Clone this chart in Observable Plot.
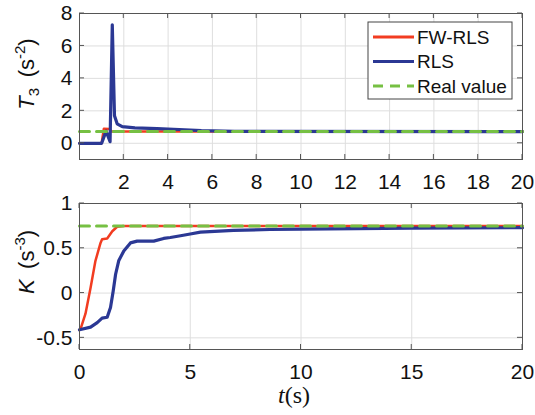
<!DOCTYPE html>
<html><head><meta charset="utf-8">
<script src="https://cdn.jsdelivr.net/npm/d3@7"></script>
<script src="https://cdn.jsdelivr.net/npm/@observablehq/plot@0.6"></script>
<style>
body{margin:0;background:#fff;width:535px;height:415px;overflow:hidden;font-family:"Liberation Sans",Arial,sans-serif;}
#chart svg{display:block}
</style></head><body><div id="chart"></div>
<script>
// ---------- data ----------
const seriesNames = ["FW-RLS", "RLS", "Real value"];
const seriesColors = ["#f23c21", "#2b3894", "#76c043"];
const xDomain = [0, 20];

const topTicksX = [2, 4, 6, 8, 10, 12, 14, 16, 18, 20];
const topTicksY = [0, 2, 4, 6, 8];
const topDomainY = [-1, 8];
const botTicksX = [0, 5, 10, 15, 20];
const botTicksY = [-0.5, 0, 0.5, 1];
const botDomainY = [-0.63, 1];

// T3 panel
const t3FwT = [0, 1.0, 1.1, 1.35, 1.45, 20];
const t3Fw  = [0, 0, 0.9, 0.88, 0.72, 0.72];
const t3RlsT = [0, 1.0, 1.2, 1.38, 1.48, 1.58, 1.7, 1.93, 2.5, 3.5, 4.5, 5.5, 7, 20];
const t3Rls  = [0, 0, 0.75, 0.1, 7.3, 1.7, 1.2, 1.03, 0.95, 0.9, 0.85, 0.78, 0.73, 0.72];
const t3Real = 0.72;

// K panel
const kFwT = [0, 0.05, 0.27, 0.5, 0.72, 0.95, 1.02, 1.25, 1.48, 1.7, 2.0, 20];
const kFw  = [-0.41, -0.40, -0.23, 0.06, 0.36, 0.56, 0.60, 0.61, 0.69, 0.74, 0.75, 0.75];
const kRlsT = [0, 0.5, 0.8, 1.02, 1.25, 1.4, 1.52, 1.63, 1.77, 2.0, 2.3, 2.6, 3.35, 3.8, 4.1, 4.56, 5.0, 5.46, 6.95, 8.6, 10, 15, 20];
const kRls  = [-0.41, -0.38, -0.33, -0.28, -0.27, -0.16, 0.02, 0.21, 0.36, 0.47, 0.56, 0.58, 0.58, 0.61, 0.62, 0.64, 0.66, 0.68, 0.70, 0.71, 0.715, 0.725, 0.73];
const kReal = 0.75;

// ---------- drawing ----------
const rows = (ts, vs) => ts.map((t, i) => ({t, v: vs[i]}));
const fmt = d => String(d);
const FONT = '"Liberation Sans", Arial, sans-serif';
const INK = "#111";

function panel({height, marginTop, marginBottom, yDomain, xTicks, yTicks, fw, rls, real}) {
  const realRows = xDomain.map(t => ({t, v: real}));
  return Plot.plot({
    width: 535, height, marginLeft: 79, marginRight: 13, marginTop, marginBottom,
    style: {fontFamily: FONT, fontSize: "21px", color: INK, background: "#fff", overflow: "visible"},
    x: {domain: xDomain, label: null},
    y: {domain: yDomain, label: null},
    marks: [
      Plot.gridX(xTicks, {stroke: "#dedede", strokeOpacity: 1}),
      Plot.gridY(yTicks, {stroke: "#dedede", strokeOpacity: 1}),
      Plot.line(fw, {x: "t", y: "v", stroke: seriesColors[0], strokeWidth: 2.5}),
      Plot.line(rls, {x: "t", y: "v", stroke: seriesColors[1], strokeWidth: 3.2}),
      Plot.line(realRows, {x: "t", y: "v", stroke: seriesColors[2], strokeWidth: 3, strokeDasharray: "10,7"}),
      Plot.frame({stroke: "#555"}),
      Plot.axisX(xTicks, {anchor: "bottom", tickSize: 0, tickPadding: 15, tickFormat: fmt, fontSize: 21, label: null}),
      Plot.axisY(yTicks, {anchor: "left", tickSize: 0, tickPadding: 7, tickFormat: fmt, fontSize: 21, label: null})
    ]
  });
}

// inward tick marks on all four sides, positioned through the plot's scales
function innerTicks(plot, xTicks, yTicks) {
  const sx = plot.scale("x"), sy = plot.scale("y");
  const [x0, x1] = sx.range, [y0, y1] = sy.range; // y0 bottom, y1 top
  const g = d3.select(plot).append("g").attr("stroke", "#555").attr("stroke-width", 1);
  xTicks.forEach(v => {
    const x = sx.apply(v);
    g.append("line").attr("x1", x).attr("x2", x).attr("y1", y0).attr("y2", y0 - 5);
    g.append("line").attr("x1", x).attr("x2", x).attr("y1", y1).attr("y2", y1 + 5);
  });
  yTicks.forEach(v => {
    const y = sy.apply(v);
    g.append("line").attr("x1", x0).attr("x2", x0 + 5).attr("y1", y).attr("y2", y);
    g.append("line").attr("x1", x1).attr("x2", x1 - 5).attr("y1", y).attr("y2", y);
  });
}

const topPlot = panel({
  height: 195, marginTop: 13, marginBottom: 36,
  yDomain: topDomainY, xTicks: topTicksX, yTicks: topTicksY,
  fw: rows(t3FwT, t3Fw), rls: rows(t3RlsT, t3Rls), real: t3Real
});
const botPlot = panel({
  height: 220, marginTop: 8, marginBottom: 66,
  yDomain: botDomainY, xTicks: botTicksX, yTicks: botTicksY,
  fw: rows(kFwT, kFw), rls: rows(kRlsT, kRls), real: kReal
});
document.getElementById("chart").append(topPlot, botPlot);
innerTicks(topPlot, topTicksX, topTicksY);
innerTicks(botPlot, botTicksX, botTicksY);

// y labels with italic symbol, subscript and superscript
function yLabel(svg, cy, sym, sub, sup) {
  const t = d3.select(svg).append("text")
    .attr("transform", `translate(34,${cy}) rotate(-90)`)
    .attr("text-anchor", "middle")
    .attr("font-family", FONT).attr("font-size", 22).attr("fill", INK);
  t.append("tspan").attr("font-style", "italic").text(sym);
  if (sub) t.append("tspan").attr("font-size", 15).attr("dy", 5).text(sub);
  t.append("tspan").attr("dy", sub ? -5 : 0).text("\u2009 (s");
  t.append("tspan").attr("font-size", 15).attr("dy", -9).text(sup);
  t.append("tspan").attr("dy", 9).text(")");
}
yLabel(topPlot, 74, "T", "3", "-2");
yLabel(botPlot, 67, "K", null, "-3");

// x label t(s)
const xl = d3.select(botPlot).append("text")
  .attr("x", 294).attr("y", 208).attr("text-anchor", "middle")
  .attr("font-family", '"Liberation Serif", "DejaVu Serif", serif').attr("font-size", 24).attr("fill", INK);
xl.append("tspan").attr("font-style", "italic").text("t");
xl.append("tspan").text("(s)");

// legend
const lg = d3.select(topPlot).append("g");
lg.append("rect").attr("x", 368).attr("y", 22).attr("width", 144).attr("height", 77)
  .attr("fill", "#fff").attr("stroke", "#444").attr("stroke-width", 1);
seriesNames.forEach((name, i) => {
  const y = 37 + i * 24.5;
  lg.append("line").attr("x1", 373).attr("x2", 414).attr("y1", y).attr("y2", y)
    .attr("stroke", seriesColors[i]).attr("stroke-width", i === 1 ? 3.2 : 3)
    .attr("stroke-dasharray", i === 2 ? "10,7" : null);
  lg.append("text").attr("x", 417).attr("y", y).attr("dy", "0.35em")
    .attr("text-anchor", "start")
    .attr("font-family", FONT).attr("font-size", 19).attr("fill", INK).text(name);
});
</script>
</body></html>
